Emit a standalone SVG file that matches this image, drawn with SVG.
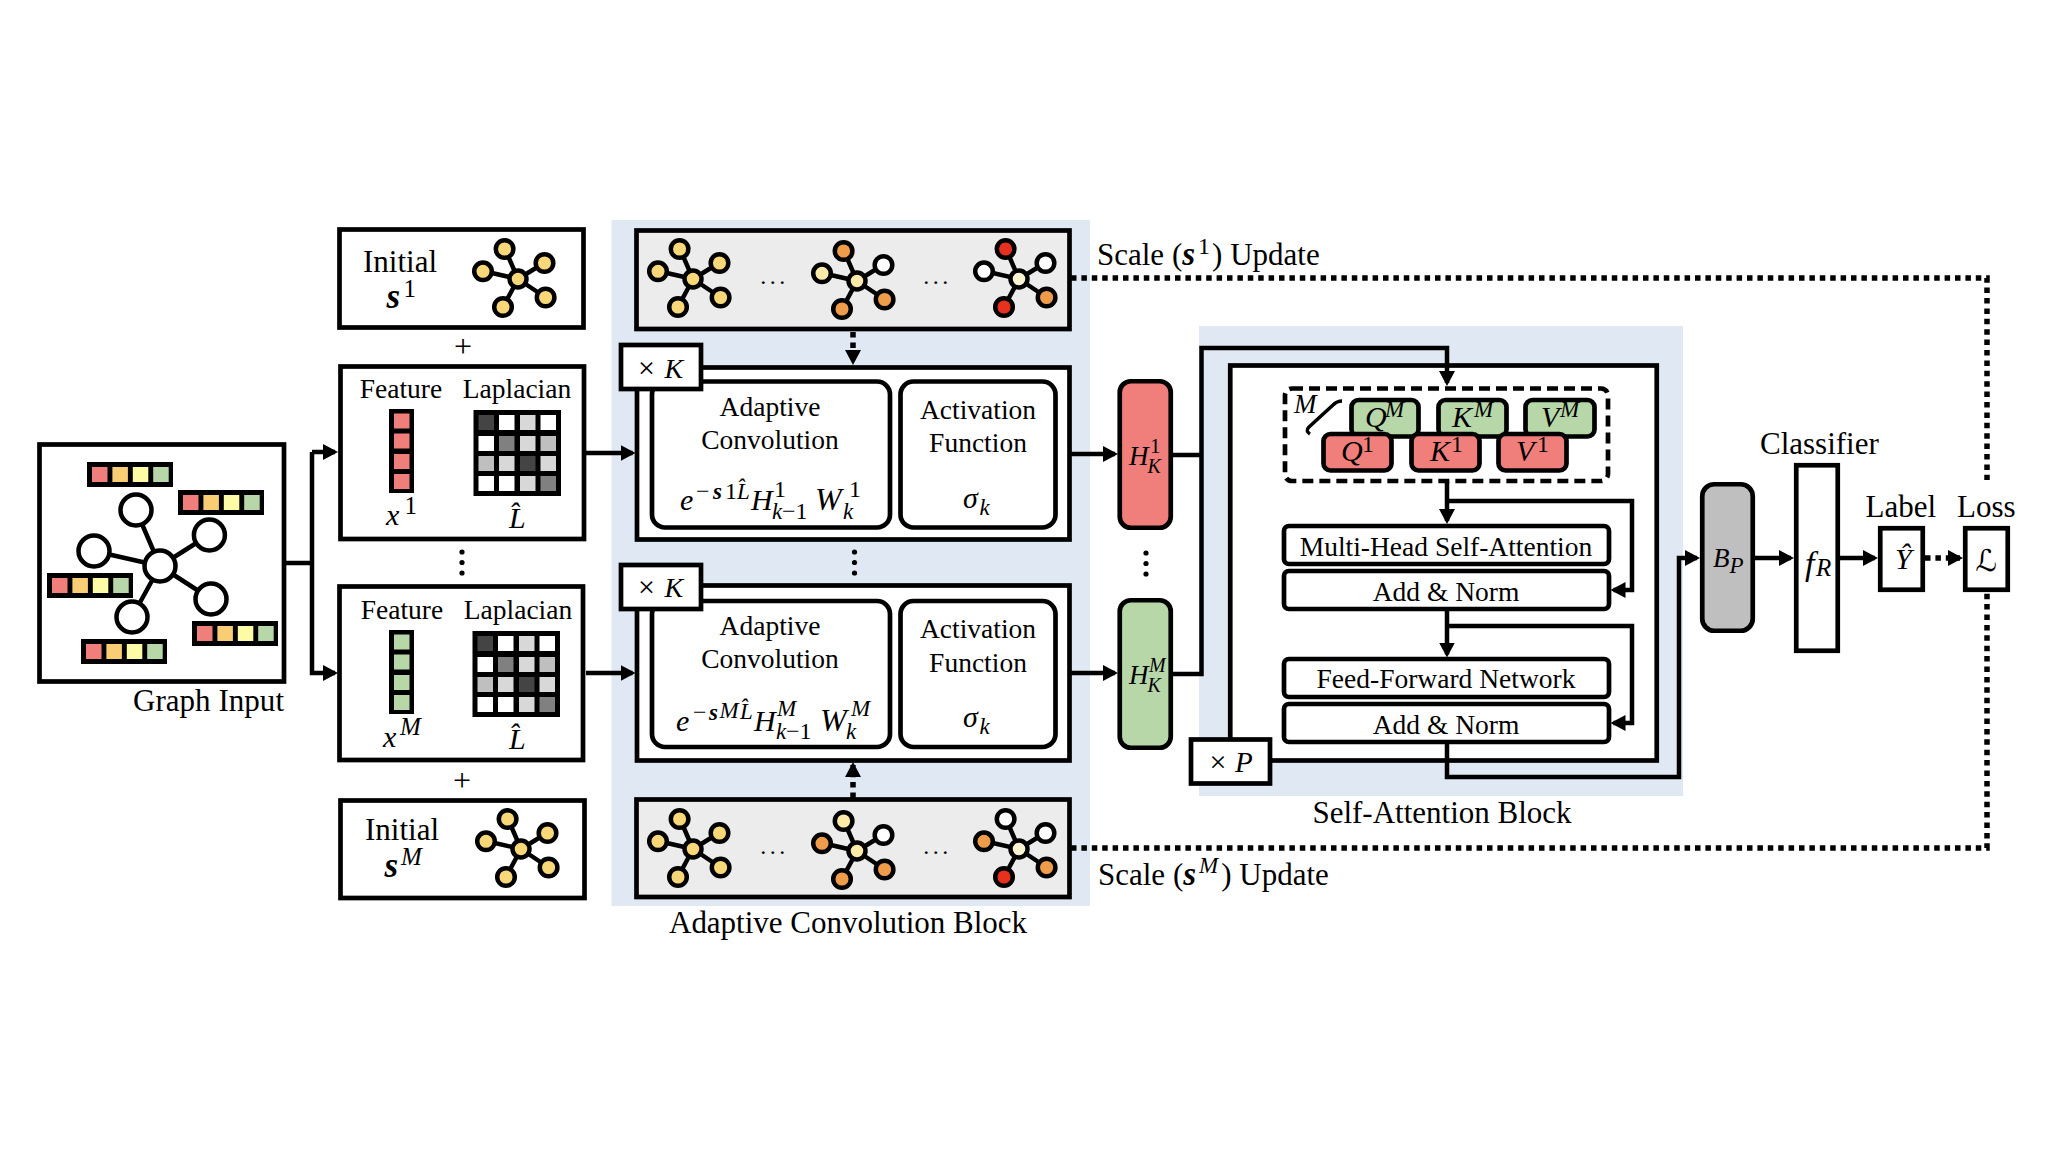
<svg xmlns="http://www.w3.org/2000/svg" width="2054" height="1154" viewBox="0 0 2054 1154">
<style>
text{font-family:"Liberation Serif","Times New Roman",serif;fill:#000}
.t{font-size:27.5px}
.c{text-anchor:middle}
.l{font-size:31px}
.m{font-size:30px;font-style:italic}
.s{font-size:23px;font-style:italic}
.d{font-size:24px;font-style:normal}
.b{font-weight:bold}
.box{fill:#fff;stroke:#000;stroke-width:4.7}
.gray{fill:#ececec;stroke:#000;stroke-width:4.7}
.wire{fill:none;stroke:#000;stroke-width:4.5}
.dot{fill:none;stroke:#000;stroke-width:5.5;stroke-dasharray:5.5 4.9}
.bg{fill:#dfe8f3}
.red{fill:#f07f7b}.ora{fill:#f8cd74}.yel{fill:#fdfba6}.grn{fill:#b7d7a8}
.y{fill:#f8d778}.o{fill:#ef9c4a}.p{fill:#fbeaa8}.q{fill:#fbf3d2}.r{fill:#e8301f}.w{fill:#fff}
.k{fill:#444}.h{fill:#808080}.n{fill:#bfbfbf}.g{fill:#d8d8d8}
</style>
<defs>
<marker id="head" markerUnits="userSpaceOnUse" markerWidth="15" markerHeight="16" viewBox="0 0 15 16" refX="12" refY="8" orient="auto"><path d="M0 0L15 8L0 16Z" fill="#000"/></marker>
<path id="spokes" d="M-13-30L0 0M26-16L0 0M-35-8L0 0M27 18L0 0M-15 28L0 0" fill="none" stroke="#000" stroke-width="4.5"/>
<circle id="n0" r="8.5" stroke="#000" stroke-width="4.5"/>
<circle id="n1" cx="-13.4" cy="-30" r="8.8" stroke="#000" stroke-width="4.5"/>
<circle id="n2" cx="26.5" cy="-16" r="8.8" stroke="#000" stroke-width="4.5"/>
<circle id="n3" cx="-35" cy="-7.7" r="8.8" stroke="#000" stroke-width="4.5"/>
<circle id="n4" cx="27.6" cy="18.5" r="8.8" stroke="#000" stroke-width="4.5"/>
<circle id="n5" cx="-15" cy="28" r="8.8" stroke="#000" stroke-width="4.5"/>
<g id="bar">
<rect width="86" height="25" fill="#000"/>
<rect class="red" x="5" y="5" width="15.5" height="15"/><rect class="ora" x="25.4" y="5" width="15.5" height="15"/><rect class="yel" x="45.8" y="5" width="15.5" height="15"/><rect class="grn" x="66.2" y="5" width="15.5" height="15"/>
</g>
<g id="lap">
<rect width="87.5" height="86" fill="#000"/>
<rect class="k" x="5" y="5" width="15.5" height="15"/><rect class="w" x="25.5" y="5" width="15.5" height="15"/><rect class="g" x="46.5" y="5" width="15.5" height="15"/><rect class="w" x="67" y="5" width="15.5" height="15"/>
<rect class="w" x="5" y="26" width="15.5" height="15"/><rect class="h" x="25.5" y="26" width="15.5" height="15"/><rect class="g" x="46.5" y="26" width="15.5" height="15"/><rect class="n" x="67" y="26" width="15.5" height="15"/>
<rect class="n" x="5" y="46" width="15.5" height="15"/><rect class="g" x="25.5" y="46" width="15.5" height="15"/><rect class="k" x="46.5" y="46" width="15.5" height="15"/><rect class="g" x="67" y="46" width="15.5" height="15"/>
<rect class="w" x="5" y="66" width="15.5" height="15"/><rect class="w" x="25.5" y="66" width="15.5" height="15"/><rect class="g" x="46.5" y="66" width="15.5" height="15"/><rect class="h" x="67" y="66" width="15.5" height="15"/>
</g>
<g id="vec">
<rect width="25" height="84" fill="#000"/>
<rect x="5" y="4.5" width="15.5" height="15"/><rect x="5" y="24.5" width="15.5" height="15"/><rect x="5" y="45" width="15.5" height="15"/><rect x="5" y="65" width="15.5" height="15"/>
</g>
</defs>

<!-- shaded block backgrounds -->
<rect class="bg" x="611.5" y="220" width="478.5" height="686"/>
<rect class="bg" x="1199" y="326" width="484" height="470"/>

<g id="graph-input">
<rect class="box" x="39.5" y="444.5" width="244.5" height="237"/>
<path d="M160 566L136 510M160 566L209 535M160 566L94 551M160 566L211 599M160 566L132 617" fill="none" stroke="#000" stroke-width="4.5"/>
<g fill="#fff" stroke="#000" stroke-width="4.5">
<circle cx="136" cy="510" r="15.5"/><circle cx="209.4" cy="535" r="15.5"/><circle cx="94" cy="551" r="15.5"/><circle cx="211" cy="599" r="15.5"/><circle cx="132" cy="617" r="15.5"/><circle cx="160" cy="566" r="15.5"/>
</g>
<use href="#bar" x="87" y="462"/><use href="#bar" x="178" y="490"/><use href="#bar" x="47" y="573"/><use href="#bar" x="192" y="621"/><use href="#bar" x="81" y="639"/>
<text class="l" x="133" y="711" textLength="151">Graph Input</text>
</g>

<g id="initial-1">
<rect class="box" x="339.5" y="229.5" width="244" height="98"/>
<text class="l" x="400" y="272" text-anchor="middle">Initial</text>
<text class="m b" x="386.5" y="308" style="font-size:35px">s<tspan class="d" x="403.5" y="297" style="font-size:25px;font-weight:normal">1</tspan></text>
<g transform="translate(518 279)"><use href="#spokes"/><use href="#n1" class="y"/><use href="#n2" class="y"/><use href="#n3" class="y"/><use href="#n4" class="y"/><use href="#n5" class="y"/><use href="#n0" class="y"/></g>
</g>
<text class="l" x="463" y="357" text-anchor="middle" style="font-size:32px">+</text>

<g id="features-1">
<rect class="box" x="340.5" y="366.5" width="243.5" height="172.5"/>
<text class="t c" x="401" y="398">Feature</text>
<text class="t c" x="517" y="398">Laplacian</text>
<use href="#vec" class="red" x="389" y="409"/>
<use href="#lap" x="473.5" y="410"/>
<text class="m" x="386" y="525">x<tspan class="d" x="404.5" y="514" style="font-size:25px">1</tspan></text>
<text class="m" x="509" y="528">L̂</text>
</g>

<g id="features-m">
<rect class="box" x="339.5" y="586.5" width="243.5" height="173.5"/>
<text class="t c" x="402" y="619">Feature</text>
<text class="t c" x="518" y="619">Laplacian</text>
<use href="#vec" class="grn" x="389" y="630"/>
<use href="#lap" x="472.5" y="631"/>
<text class="m" x="383" y="747">x<tspan class="s" x="400" y="735" style="font-size:25px">M</tspan></text>
<text class="m" x="509" y="749">L̂</text>
</g>
<circle cx="462" cy="552" r="2.6"/><circle cx="462" cy="562.5" r="2.6"/><circle cx="462" cy="573" r="2.6"/>
<text class="l" x="462" y="791" text-anchor="middle" style="font-size:32px">+</text>

<g id="initial-m">
<rect class="box" x="340.5" y="800.5" width="244" height="97.5"/>
<text class="l" x="402" y="840" text-anchor="middle">Initial</text>
<text class="m b" x="384.5" y="877" style="font-size:35px">s<tspan class="s" x="401" y="865" style="font-size:25px;font-weight:normal">M</tspan></text>
<g transform="translate(521 849)"><use href="#spokes"/><use href="#n1" class="y"/><use href="#n2" class="y"/><use href="#n3" class="y"/><use href="#n4" class="y"/><use href="#n5" class="y"/><use href="#n0" class="y"/></g>
</g>

<g id="scales-1">
<rect class="gray" x="636.5" y="230.5" width="433" height="98.5"/>
<g transform="translate(693 279)"><use href="#spokes"/><use href="#n1" class="y"/><use href="#n2" class="y"/><use href="#n3" class="y"/><use href="#n4" class="y"/><use href="#n5" class="y"/><use href="#n0" class="y"/></g>
<text x="774.5" y="284" text-anchor="middle" style="font-size:24px;letter-spacing:3.5px">...</text>
<g transform="translate(857 281)"><use href="#spokes"/><use href="#n1" class="o"/><use href="#n2" class="w"/><use href="#n3" class="p"/><use href="#n4" class="o"/><use href="#n5" class="o"/><use href="#n0" class="p"/></g>
<text x="937.5" y="284" text-anchor="middle" style="font-size:24px;letter-spacing:3.5px">...</text>
<g transform="translate(1019 279)"><use href="#spokes"/><use href="#n1" class="r"/><use href="#n2" class="w"/><use href="#n3" class="w"/><use href="#n4" class="o"/><use href="#n5" class="r"/><use href="#n0" class="q"/></g>
</g>

<g id="conv-block-1">
<rect class="box" x="637" y="367.5" width="432.5" height="172"/>
<rect class="box" x="652" y="381.5" width="238" height="146" rx="13"/>
<rect class="box" x="900.5" y="381.5" width="155" height="146" rx="13"/>
<rect class="box" x="621" y="345" width="80" height="44"/>
<text class="t" x="638" y="378" style="font-size:30px">× <tspan font-style="italic" x="664.5" style="font-size:28px">K</tspan></text>
<text class="t c" x="770" y="416">Adaptive</text>
<text class="t c" x="770" y="449">Convolution</text>
<text class="t c" x="978" y="419">Activation</text>
<text class="t c" x="978" y="452">Function</text>
<text class="m" x="680" y="510">e<tspan class="d" x="696" y="499">−</tspan><tspan class="s b" x="713" y="499">s</tspan><tspan class="d" x="725" y="499">1</tspan><tspan class="s" x="737" y="499">L̂</tspan><tspan x="751" y="510">H</tspan><tspan class="d" x="774" y="497">1</tspan><tspan class="s" x="772" y="519">k</tspan><tspan class="d" x="782" y="519">−1</tspan><tspan x="815" y="510" style="font-size:32px">W</tspan><tspan class="d" x="849" y="497">1</tspan><tspan class="s" x="843" y="519">k</tspan></text>
<text class="m" x="963" y="508">σ<tspan class="s" x="979.5" y="515">k</tspan></text>
</g>

<circle cx="854.5" cy="552" r="2.6"/><circle cx="854.5" cy="562.5" r="2.6"/><circle cx="854.5" cy="573" r="2.6"/>

<g id="conv-block-m">
<rect class="box" x="637" y="585.5" width="432.5" height="175"/>
<rect class="box" x="652" y="601" width="238" height="146" rx="13"/>
<rect class="box" x="900.5" y="601" width="155" height="146" rx="13"/>
<rect class="box" x="621" y="565" width="80" height="44"/>
<text class="t" x="638" y="597" style="font-size:30px">× <tspan font-style="italic" x="664.5" style="font-size:28px">K</tspan></text>
<text class="t c" x="770" y="635">Adaptive</text>
<text class="t c" x="770" y="668">Convolution</text>
<text class="t c" x="978" y="638">Activation</text>
<text class="t c" x="978" y="672">Function</text>
<text class="m" x="676" y="731">e<tspan class="d" x="693" y="720">−</tspan><tspan class="s b" x="709" y="720">s</tspan><tspan class="s" x="719.5" y="718">M</tspan><tspan class="s" x="740" y="719">L̂</tspan><tspan x="754" y="731">H</tspan><tspan class="s" x="777" y="716">M</tspan><tspan class="s" x="776" y="739">k</tspan><tspan class="d" x="786" y="739">−1</tspan><tspan x="820" y="731" style="font-size:32px">W</tspan><tspan class="s" x="851" y="716">M</tspan><tspan class="s" x="846" y="739">k</tspan></text>
<text class="m" x="963" y="727">σ<tspan class="s" x="979.5" y="734">k</tspan></text>
</g>

<g id="scales-m">
<rect class="gray" x="636.5" y="799.5" width="433" height="97.5"/>
<g transform="translate(693 849)"><use href="#spokes"/><use href="#n1" class="y"/><use href="#n2" class="y"/><use href="#n3" class="y"/><use href="#n4" class="y"/><use href="#n5" class="y"/><use href="#n0" class="y"/></g>
<text x="774.5" y="854" text-anchor="middle" style="font-size:24px;letter-spacing:3.5px">...</text>
<g transform="translate(857 851)"><use href="#spokes"/><use href="#n1" class="p"/><use href="#n2" class="w"/><use href="#n3" class="o"/><use href="#n4" class="o"/><use href="#n5" class="o"/><use href="#n0" class="p"/></g>
<text x="937.5" y="854" text-anchor="middle" style="font-size:24px;letter-spacing:3.5px">...</text>
<g transform="translate(1019 849)"><use href="#spokes"/><use href="#n1" class="w"/><use href="#n2" class="w"/><use href="#n3" class="o"/><use href="#n4" class="o"/><use href="#n5" class="r"/><use href="#n0" class="q"/></g>
</g>

<text class="l" x="669" y="933" textLength="358">Adaptive Convolution Block</text>

<g id="hidden-1">
<rect class="box red" x="1119.75" y="381.25" width="51" height="146.5" rx="11"/>
<text class="m" x="1129" y="465" style="font-size:27px">H<tspan class="d" x="1150" y="453" style="font-size:21px">1</tspan><tspan class="s" x="1147.5" y="473" style="font-size:20px">K</tspan></text>
</g>
<circle cx="1146" cy="553" r="2.6"/><circle cx="1146" cy="563.5" r="2.6"/><circle cx="1146" cy="574" r="2.6"/>
<g id="hidden-m">
<rect class="box grn" x="1119.75" y="600.25" width="51" height="147.5" rx="11"/>
<text class="m" x="1129" y="684" style="font-size:27px">H<tspan class="s" x="1149" y="672" style="font-size:20px">M</tspan><tspan class="s" x="1147.5" y="692" style="font-size:20px">K</tspan></text>
</g>

<g id="attention-block">
<rect class="box" x="1230.25" y="365.5" width="426.5" height="395"/>
<rect x="1285" y="388.5" width="323" height="92.5" rx="7" fill="none" stroke="#000" stroke-width="4.7" stroke-dasharray="11 6"/>
<text class="m" x="1294" y="413" style="font-size:27px">M</text>
<path d="M1310 434Q1305 431 1309 427L1333 405Q1337 401 1342 401" fill="none" stroke="#000" stroke-width="3.5"/>
<rect class="box grn" x="1351.5" y="400" width="67" height="36.5" rx="7"/>
<rect class="box grn" x="1438.5" y="400" width="68" height="36.5" rx="7"/>
<rect class="box grn" x="1525.5" y="400" width="69" height="36.5" rx="7"/>
<rect class="box red" x="1323.5" y="434" width="68" height="36.5" rx="7"/>
<rect class="box red" x="1411.5" y="434" width="68" height="36.5" rx="7"/>
<rect class="box red" x="1498.5" y="434" width="68" height="36.5" rx="7"/>
<text class="m" x="1365" y="427">Q<tspan class="s" x="1385" y="417">M</tspan></text>
<text class="m" x="1452" y="427">K<tspan class="s" x="1474" y="417">M</tspan></text>
<text class="m" x="1541" y="427">V<tspan class="s" x="1560" y="417">M</tspan></text>
<text class="m" x="1341" y="461">Q<tspan class="d" x="1362" y="452">1</tspan></text>
<text class="m" x="1430" y="461">K<tspan class="d" x="1451" y="452">1</tspan></text>
<text class="m" x="1516" y="461">V<tspan class="d" x="1537" y="452">1</tspan></text>
<rect class="box" x="1284" y="526" width="325" height="38" rx="5"/>
<text class="t c" x="1446" y="556">Multi-Head Self-Attention</text>
<rect class="box" x="1284" y="571" width="325" height="38" rx="5"/>
<text class="t c" x="1446" y="601">Add &amp; Norm</text>
<rect class="box" x="1284" y="659" width="325" height="38" rx="5"/>
<text class="t c" x="1446" y="688">Feed-Forward Network</text>
<rect class="box" x="1284" y="704" width="325" height="38" rx="5"/>
<text class="t c" x="1446" y="734">Add &amp; Norm</text>
<rect class="box" x="1191" y="739.5" width="79" height="44"/>
<text class="t" x="1209.5" y="772" style="font-size:30px">× <tspan font-style="italic" x="1235" style="font-size:29px">P</tspan></text>
</g>
<text class="l c" x="1442" y="823">Self-Attention Block</text>

<g id="pooled">
<rect x="1702.25" y="484.25" width="50.5" height="146.5" rx="12" fill="#bfbfbf" stroke="#000" stroke-width="4.7"/>
<text class="m" x="1713" y="567" style="font-size:27px">B<tspan class="s" x="1729.5" y="573">P</tspan></text>
</g>
<g id="classifier">
<rect class="box" x="1796.25" y="465.25" width="41.5" height="185.5"/>
<text class="m" x="1805" y="575" style="font-size:34px">f<tspan class="s" x="1816" y="576" style="font-size:25px">R</tspan></text>
<text class="l" x="1760" y="454">Classifier</text>
</g>
<g id="label">
<rect class="box" x="1880.25" y="528.25" width="42.5" height="61.5"/>
<text class="m" x="1895" y="569">Ŷ</text>
<text class="l" x="1865.5" y="517">Label</text>
</g>
<g id="loss">
<rect class="box" x="1965.25" y="528.25" width="42.5" height="61.5"/>
<text class="m" x="1975.5" y="571" style="font-family:'DejaVu Serif','DejaVu Sans',serif;font-size:30px">ℒ</text>
<text class="l" x="1957" y="517">Loss</text>
</g>

<text class="l" x="1097" y="265">Scale (<tspan class="b" font-style="italic" style="font-size:33px">s</tspan><tspan class="d" dx="3" dy="-11">1</tspan><tspan dx="2" dy="11">) Update</tspan></text>
<text class="l" x="1098" y="885">Scale (<tspan class="b" font-style="italic" style="font-size:33px">s</tspan><tspan class="s" dx="3" dy="-12">M</tspan><tspan dx="3" dy="12">) Update</tspan></text>

<g id="connectors">
<path class="wire" d="M286 563H312M312 452V673H335" marker-end="url(#head)"/>
<path class="wire" d="M312 452H335" marker-end="url(#head)"/>
<path class="wire" d="M586 453H632.5" marker-end="url(#head)"/>
<path class="wire" d="M586 673H632.5" marker-end="url(#head)"/>
<path class="wire" d="M1071 454H1115" marker-end="url(#head)"/>
<path class="wire" d="M1071 673H1115" marker-end="url(#head)"/>
<path class="wire" d="M1172 455H1201.5M1172 674H1201.5V348H1447V383" marker-end="url(#head)"/>
<path class="wire" d="M1447 482V521" marker-end="url(#head)"/>
<path class="wire" d="M1447 501H1632V590H1613.5" marker-end="url(#head)"/>
<path class="wire" d="M1447 610V654.5" marker-end="url(#head)"/>
<path class="wire" d="M1447 626H1632V723H1613.5" marker-end="url(#head)"/>
<path class="wire" d="M1447 743V777H1679V558H1697" marker-end="url(#head)"/>
<path class="wire" d="M1755 558H1791" marker-end="url(#head)"/>
<path class="wire" d="M1840 558H1875" marker-end="url(#head)"/>
<path class="dot" d="M1925 558H1960" marker-end="url(#head)"/>
<path class="dot" d="M853 332V362" marker-end="url(#head)"/>
<path class="dot" d="M853 798V765" marker-end="url(#head)"/>
<path class="dot" d="M1071 278H1987V480"/>
<path class="dot" d="M1071 848H1987V592"/>
</g>
</svg>
